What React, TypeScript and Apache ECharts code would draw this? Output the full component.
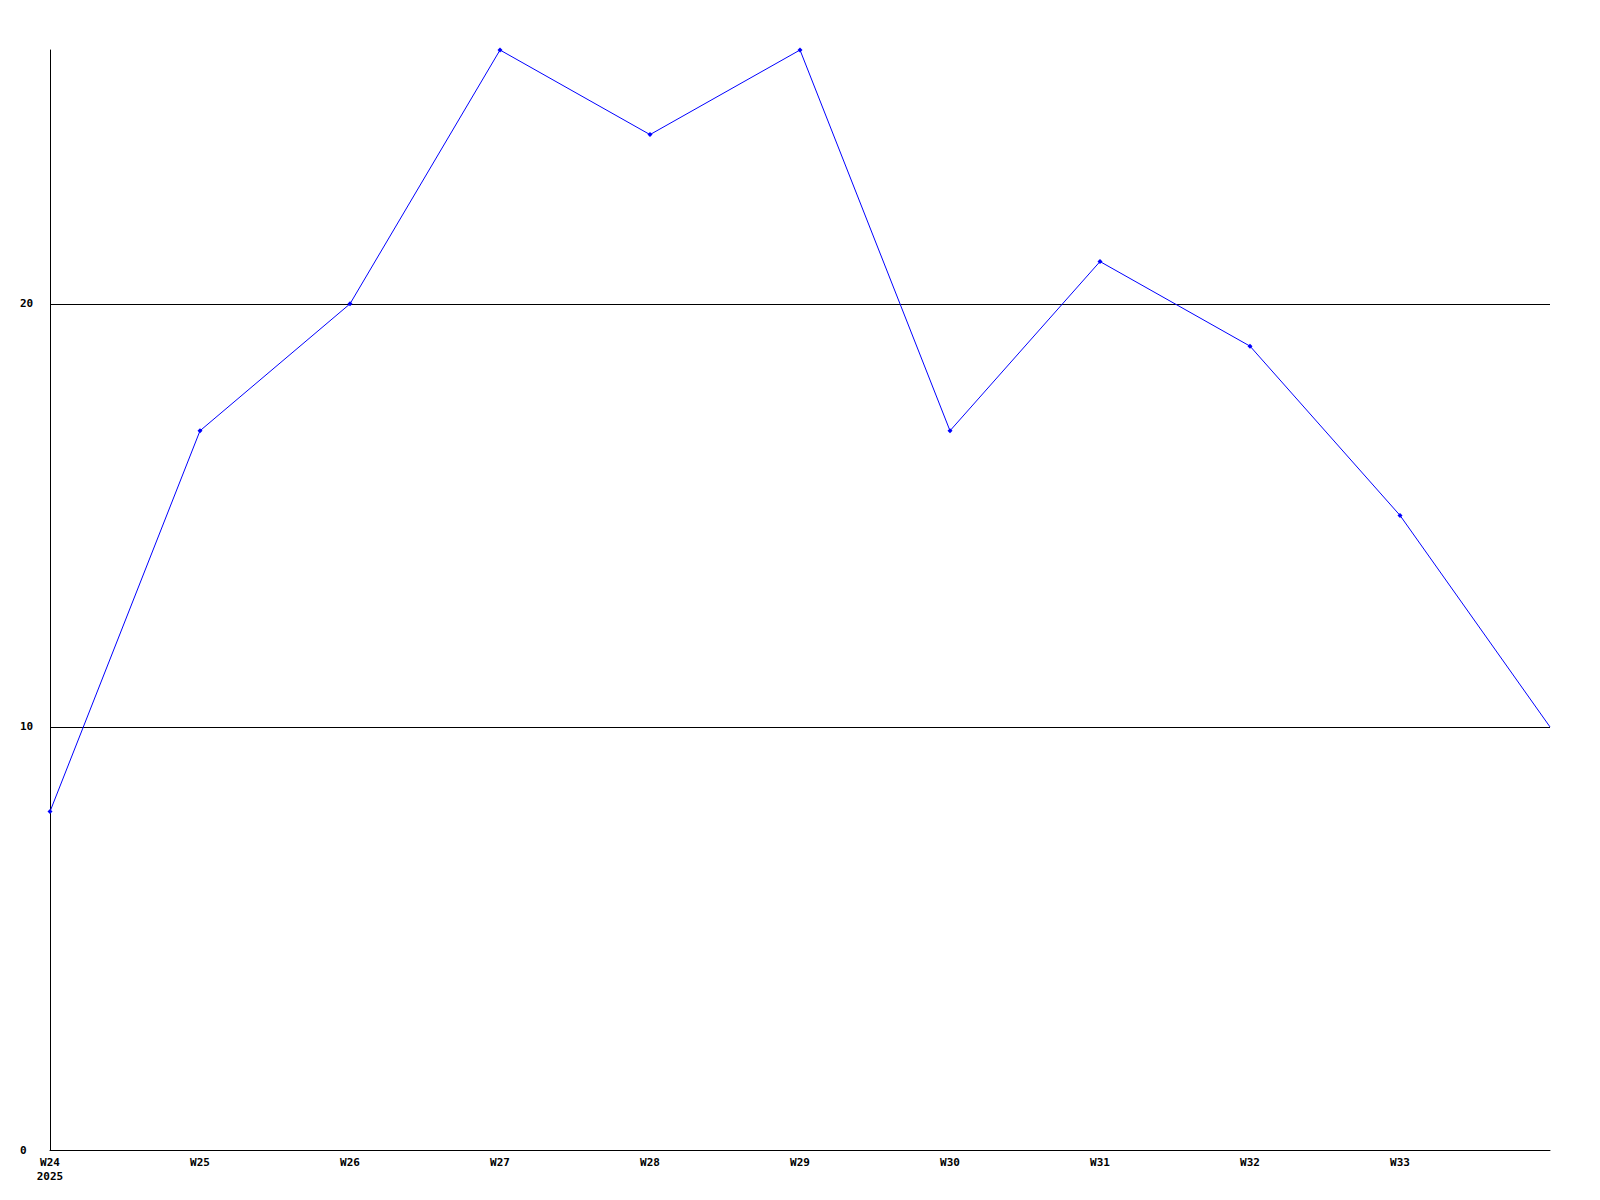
import React, { useEffect, useRef } from "react";
import * as echarts from "echarts";

const weeks = ["W24", "W25", "W26", "W27", "W28", "W29", "W30", "W31", "W32", "W33", "W34"];
const values = [8, 17, 20, 26, 24, 26, 17, 21, 19, 15, 10];
const yTicks = [0, 10, 20];

export default function App() {
  const ref = useRef<HTMLDivElement>(null);
  useEffect(() => {
    if (!ref.current) return;
    const chart = echarts.init(ref.current, null, { renderer: "svg" });
    const font = { fontFamily: "DejaVu Sans Mono", fontWeight: "bold" as const, fontSize: 11, color: "#000" };
    chart.setOption({
      animation: false,
      backgroundColor: "#fff",
      grid: { left: 50, right: 50, top: 50, bottom: 50, containLabel: false },
      xAxis: {
        type: "category",
        data: weeks,
        boundaryGap: false,
        axisLine: { lineStyle: { color: "#000", width: 1 } },
        axisTick: { show: false },
        splitLine: { show: false },
        axisLabel: {
          ...font,
          margin: 5,
          lineHeight: 14,
          interval: 0,
          verticalAlign: "top",
          formatter: (v: string, i: number) => (i === 0 ? v + "\n2025" : i === weeks.length - 1 ? "" : v),
        },
      },
      yAxis: {
        type: "value",
        min: 0,
        max: 26,
        interval: 10,
        axisLine: { show: true, lineStyle: { color: "#000", width: 1 } },
        axisTick: { show: false },
        splitLine: { show: true, showMaxLine: false, showMinLine: false, lineStyle: { color: "#000", width: 1 } },
        axisLabel: {
          ...font,
          align: "left",
          margin: 30,
          showMaxLabel: false,
          formatter: (v: number) => (yTicks.includes(v) ? String(v) : ""),
        },
      },
      series: [
        {
          type: "line",
          data: values.map((v, i) => (i === values.length - 1 ? { value: v, symbol: "none" } : v)),
          symbol: "diamond",
          symbolSize: 5,
          showAllSymbol: true,
          lineStyle: { color: "#0000ff", width: 1 },
          itemStyle: { color: "#0000ff" },
        },
      ],
    });
    return () => chart.dispose();
  }, []);
  return <div ref={ref} style={{ position: "absolute", left: 0, top: 0, width: 1600, height: 1200 }} />;
}
